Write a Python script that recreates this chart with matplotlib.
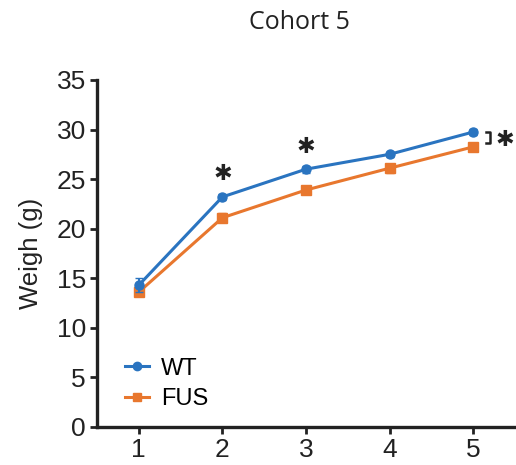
import numpy as np
import matplotlib.pyplot as plt
from matplotlib.lines import Line2D

weeks = [1, 2, 3, 4, 5]
wt = [14.3, 23.2, 26.0, 27.5, 29.75]
wt_err = [0.7, 0.3, 0.35, 0.25, 0.35]
fus = [13.6, 21.1, 23.9, 26.1, 28.25]
fus_err = [0.35, 0.45, 0.45, 0.45, 0.3]
yticks = [0, 5, 10, 15, 20, 25, 30, 35]

blue = "#2a74c0"
orange = "#e8772e"

plt.rcParams['font.family'] = ['Liberation Sans', 'DejaVu Sans']
fig = plt.figure(figsize=(5.16, 4.65), dpi=100)
ax = fig.add_axes([0.188, 0.082, 0.81, 0.746])

ax.errorbar(weeks, wt, yerr=wt_err, color=blue, marker='o', markersize=6.5,
            lw=2.2, capsize=3, elinewidth=1.5, zorder=3)
ax.errorbar(weeks, fus, yerr=fus_err, color=orange, marker='s', markersize=6.5,
            lw=2.2, capsize=3, elinewidth=1.5, zorder=2)

ax.set_xlim(0.5, 5.5)
ax.set_ylim(0, 35)
ax.set_yticks(yticks)
ax.set_xticks(weeks)
ax.tick_params(labelsize=19, width=2, length=5, color="#222222", labelcolor="#222222", pad=3)
ax.spines['top'].set_visible(False)
ax.spines['right'].set_visible(False)
for s in ['left', 'bottom']:
    ax.spines[s].set_linewidth(2.4)
    ax.spines[s].set_color("#222222")
ax.set_ylabel("Weigh (g)", fontsize=18.5, labelpad=10, color="#222222")

fig.text(0.581, 0.952, "Cohort 5", ha='center', va='center', fontsize=18,
         color="#222222", family=['Open Sans', 'DejaVu Sans'])

# significance marks
star = dict(ha='center', va='center', fontsize=16, color="#222222", family=['DejaVu Sans'])
ax.text(2, 25.5, "\u2731", **star)
ax.text(3, 28.25, "\u2731", **star)
ax.plot([5.15, 5.2, 5.2, 5.15], [29.75, 29.75, 28.6, 28.6], color="#222222", lw=1.8, clip_on=False)
ax.text(5.38, 28.9, "\u2731", **star)

handles = [Line2D([], [], color=blue, marker='o', markersize=6, lw=2.2),
           Line2D([], [], color=orange, marker='s', markersize=6, lw=2.2)]
ax.legend(handles, ["WT", "FUS"], loc='lower left', frameon=False, fontsize=17,
          handlelength=1.0, handletextpad=0.5, bbox_to_anchor=(0.045, 0.022),
          borderaxespad=0.0, labelspacing=0.35)

fig.savefig("out.png", dpi=100)
